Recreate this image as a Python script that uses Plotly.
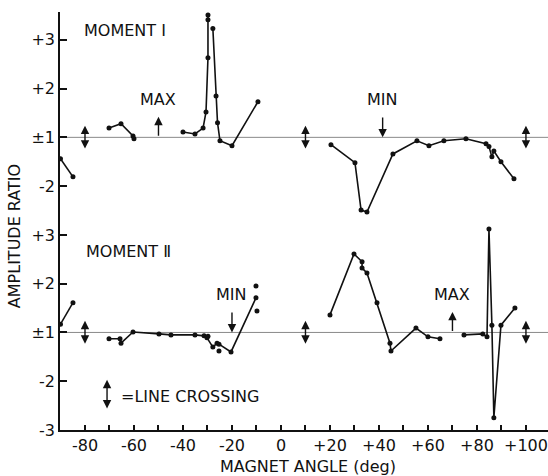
import plotly.graph_objects as go

# ---- Data: magnet angle (deg) and amplitude ratio, grouped by connected run ----
# Moment I
m1_runs = [
    ([-90.0, -84.9], [-1.44, -1.81]),
    ([-70.2, -65.3, -60.4, -60.0], [1.19, 1.28, 1.03, -1.03]),
    ([-40.0, -35.1, -31.8, -30.6, -29.8, -29.8, -29.8], [1.11, 1.07, 1.19, 1.52, 2.63, 3.41, 3.51]),
    ([-27.8, -26.5, -25.9, -24.9, -20.0, -9.4], [3.23, 1.85, 1.30, -1.07, -1.17, 1.73]),
    ([20.4, 30.2, 32.7, 35.1, 45.7, 55.5, 60.4, 66.5, 75.5, 83.7, 84.9, 86.1, 86.9, 89.8, 95.1],
     [-1.15, -1.52, -2.49, -2.53, -1.34, -1.07, -1.17, -1.07, -1.03, -1.13, -1.19, -1.40, -1.28, -1.50, -1.85]),
]

# Moment II
m2_runs = [
    ([-90.0, -84.9], [1.17, 1.61]),
    ([-70.2, -65.7, -65.3, -60.4, -49.8, -44.9, -35.1, -31.4, -30.2, -27.8, -26.1, -25.3, -20.4, -10.2],
     [-1.13, -1.13, -1.22, 1.01, -1.03, -1.05, -1.05, -1.07, -1.11, -1.30, -1.22, -1.24, -1.40, 1.71]),
    ([20.0, 29.8, 33.1, 33.1, 35.1, 39.2, 44.5, 44.9, 55.1, 60.0, 64.9],
     [1.36, 2.61, 2.45, 2.32, 2.22, 1.61, -1.22, -1.38, 1.09, -1.09, -1.13]),
    ([74.7, 82.4, 84.1, 84.9, 86.1, 86.9, 89.8, 95.5],
     [-1.05, -1.03, -1.09, 3.12, 1.15, -2.75, 1.15, 1.50]),
]
m2_loose_angle = [-29.8, -25.3, -10.2, -9.8]
m2_loose_ratio = [-1.08, -1.38, 1.95, 1.44]

# Angles where the magnet line crossing occurs
crossing_angles = [-80, 10, 100]

# Extremum markers: (angle, label, direction)
m1_marks = [(-50, "MAX", "up"), (41.5, "MIN", "down")]
m2_marks = [(-20, "MIN", "down"), (70, "MAX", "up")]

x_tick_vals = list(range(-90, 101, 10))
x_tick_text = ["" if v % 20 else (f"+{v}" if v > 0 else str(v)) for v in x_tick_vals]

y_tick_vals = [-2, -1, 0, 1, 2, 3, 4, 5, 6]
y_tick_text = ["-3", "-2", "±1", "+2", "+3", "-2", "±1", "+2", "+3"]

# Each panel uses a folded scale: ratios >= +1 sit above the ±1 line, <= -1 below it.
M1_BASE = 4.0
M2_BASE = 0.0


def fold(r, base):
    return base + (r - 1 if r > 0 else r + 1)


INK = "#111111"
FONT = "DejaVu Sans"

fig = go.Figure()

for runs, base in ((m1_runs, M1_BASE), (m2_runs, M2_BASE)):
    for xs, rs in runs:
        fig.add_trace(go.Scatter(
            x=xs, y=[fold(r, base) for r in rs], mode="lines+markers",
            line=dict(color=INK, width=1.6),
            marker=dict(color=INK, size=5),
            showlegend=False, cliponaxis=True,
        ))

fig.add_trace(go.Scatter(
    x=m2_loose_angle, y=[fold(r, M2_BASE) for r in m2_loose_ratio], mode="markers",
    marker=dict(color=INK, size=5), showlegend=False,
))

# ±1 reference lines for both panels
for base in (M1_BASE, M2_BASE):
    fig.add_shape(type="line", xref="paper", x0=0, x1=1, yref="y", y0=base, y1=base,
                  line=dict(color="#8a8a8a", width=1), layer="below")

annotations = []


def double_arrow(x, y_lo, y_hi):
    annotations.append(dict(
        x=x, y=y_hi, ax=x, ay=y_lo, xref="x", yref="y", axref="x", ayref="y",
        text="", showarrow=True, arrowhead=2, arrowside="end+start",
        arrowsize=1.2, arrowwidth=1.4, arrowcolor=INK,
    ))


for base in (M1_BASE, M2_BASE):
    for a in crossing_angles:
        double_arrow(a, base - 0.26, base + 0.24)

for marks, base in ((m1_marks, M1_BASE), (m2_marks, M2_BASE)):
    for a, label, direction in marks:
        tip, tail = (base + 0.42, base) if direction == "up" else (base, base + 0.44)
        annotations.append(dict(
            x=a, y=tip, ax=a, ay=tail, xref="x", yref="y", axref="x", ayref="y",
            text="", showarrow=True, arrowhead=2, arrowsize=1.2, arrowwidth=1.4, arrowcolor=INK,
        ))
        annotations.append(dict(
            x=a, y=base + 0.78, xref="x", yref="y", text=label, showarrow=False,
            xanchor="center", yanchor="middle",
            font=dict(family=FONT, size=16, color=INK),
        ))

annotations += [
    dict(x=-63.5, y=6.2, xref="x", yref="y", text="MOMENT Ⅰ", showarrow=False,
         xanchor="center", yanchor="middle", font=dict(family=FONT, size=16, color=INK)),
    dict(x=-62.4, y=1.67, xref="x", yref="y", text="MOMENT Ⅱ", showarrow=False,
         xanchor="center", yanchor="middle", font=dict(family=FONT, size=16, color=INK)),
    dict(x=-66.3, y=-1.32, xref="x", yref="y", text="=LINE CROSSING", showarrow=False,
         xanchor="left", yanchor="middle", font=dict(family=FONT, size=16, color=INK)),
    dict(x=-0.094, y=0.464, xref="paper", yref="paper", text="AMPLITUDE RATIO",
         textangle=-90, showarrow=False, xanchor="center", yanchor="middle",
         font=dict(family=FONT, size=16, color=INK)),
    dict(x=0.508, y=-0.0885, xref="paper", yref="paper", text="MAGNET ANGLE (deg)",
         showarrow=False, xanchor="center", yanchor="middle",
         font=dict(family=FONT, size=16, color=INK)),
]
double_arrow(-71.0, -1.59, -0.97)

fig.update_layout(
    width=548, height=476,
    margin=dict(l=60, r=0, t=12, b=46),
    paper_bgcolor="white", plot_bgcolor="white",
    annotations=annotations,
    font=dict(family=FONT, size=16, color=INK),
    xaxis=dict(
        range=[-90.2, 109.0], tickmode="array", tickvals=x_tick_vals, ticktext=x_tick_text,
        ticks="inside", ticklen=5, tickwidth=1.5, tickcolor=INK,
        showline=True, linecolor=INK, linewidth=1.6, showgrid=False, zeroline=False,
        tickfont=dict(family=FONT, size=16, color=INK),
    ),
    yaxis=dict(
        range=[-2.0, 6.57], tickmode="array", tickvals=y_tick_vals, ticktext=y_tick_text,
        ticks="inside", ticklen=7, tickwidth=1.5, tickcolor=INK,
        showline=True, linecolor=INK, linewidth=1.6, showgrid=False, zeroline=False,
        tickfont=dict(family=FONT, size=16, color=INK),
    ),
)

fig.write_html("out.html")
